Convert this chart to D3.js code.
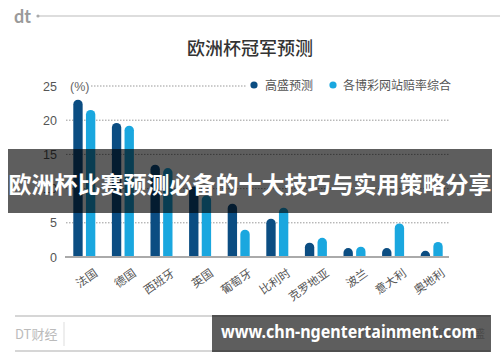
<!DOCTYPE html>
<html><head><meta charset="utf-8">
<script src="https://cdn.jsdelivr.net/npm/d3@7"></script>
<style>
html,body{margin:0;padding:0;background:#fff;}
svg{display:block;font-family:"Noto Sans CJK SC","Noto Sans",sans-serif;}
</style></head>
<body>
<svg id="c" width="500" height="362"></svg>
<script>
const categories = ["法国","德国","西班牙","英国","葡萄牙","比利时","克罗地亚","波兰","意大利","奥地利"];
const seriesNames = ["高盛预测","各博彩网站赔率综合"];
const goldman = [23.0, 19.6, 13.5, 10.3, 7.8, 5.6, 2.1, 1.3, 1.3, 0.9];
const bookmakers = [21.5, 19.2, 13.0, 9.0, 4.0, 7.2, 2.8, 1.5, 4.9, 2.2];
const yTicks = [0,5,10,15,20,25];
const colors = ["#0b4d82","#1aa7df"];

const svg = d3.select("#c");
const x = d3.scaleBand().domain(categories).range([65,451]).paddingInner(0.43).paddingOuter(0.215);
const x1 = d3.scaleBand().domain([0,1]).range([0,x.bandwidth()]).paddingInner(0.26);
const y = d3.scaleLinear().domain([0,25]).range([257,86]);

// logo
svg.append("text").attr("x",14).attr("y",23).attr("font-size",18).attr("font-weight","bold")
  .attr("fill","#9a9a9a").attr("font-family","Lato, sans-serif").text("dt");
svg.append("circle").attr("cx",38).attr("cy",16).attr("r",1.6).attr("fill","#aaa");
svg.append("line").attr("x1",39).attr("x2",500).attr("y1",16).attr("y2",16).attr("stroke","#bbb").attr("stroke-width",1);

// title
svg.append("text").attr("x",250).attr("y",55).attr("text-anchor","middle").attr("font-size",18)
  .attr("font-weight",500).attr("fill","#333").text("欧洲杯冠军预测");

// legend
const lg = svg.append("g");
[[254,265],[333,343]].forEach((p,i)=>{
  lg.append("circle").attr("cx",p[0]).attr("cy",85).attr("r",3.6).attr("fill",colors[i]);
  lg.append("text").attr("x",p[1]).attr("y",89.5).attr("font-size",12).attr("fill","#555").text(seriesNames[i]);
});

// grid & y labels
yTicks.forEach(t=>{
  if(t>0){
    svg.append("line").attr("x1", t===25?91:66).attr("x2", t===25?246:449).attr("y1",y(t)).attr("y2",y(t))
      .attr("stroke","#999").attr("stroke-width",1).attr("stroke-dasharray","1.5,1.5");
  }
  svg.append("text").attr("x",57).attr("y",y(t)+4.5).attr("text-anchor","end").attr("font-size",12.5)
    .attr("fill","#555").attr("font-family","Liberation Sans, Arial, sans-serif").text(t);
});
svg.append("text").attr("x",70).attr("y",y(25)+4.5).attr("font-size",12.5).attr("fill","#666")
  .attr("font-family","Liberation Sans, Arial, sans-serif").text("(%)");

// bars
function barPath(x0,w,yt,yb){
  const r = w/2;
  return `M${x0},${yb}V${yt+r}A${r},${r} 0 0 1 ${x0+w},${yt+r}V${yb}Z`;
}
const series = [goldman, bookmakers];
series.forEach((vals,si)=>{
  svg.append("g").selectAll("path").data(vals).join("path")
    .attr("d",(v,i)=>barPath(x(categories[i])+x1(si), x1.bandwidth(), y(v), y(0)))
    .attr("fill",colors[si]);
});
svg.append("line").attr("x1",65).attr("x2",449).attr("y1",y(0)).attr("y2",y(0)).attr("stroke","#aaa").attr("stroke-width",2);

// x labels
svg.append("g").selectAll("text").data(categories).join("text")
  .attr("transform",d=>`translate(${x(d)+x.bandwidth()/2+14},${y(0)+18}) rotate(-35)`)
  .attr("text-anchor","end").attr("font-size",11.5).attr("fill","#555").text(d=>d);

// overlay banner
svg.append("rect").attr("x",8).attr("y",149).attr("width",484).attr("height",64).attr("fill","rgba(0,0,0,0.63)");
svg.append("text").attr("x",250).attr("y",193).attr("text-anchor","middle").attr("font-size",23)
  .attr("font-weight","bold").attr("fill","#fff").text("欧洲杯比赛预测必备的十大技巧与实用策略分享");

// footer
svg.append("line").attr("x1",15).attr("x2",490).attr("y1",316).attr("y2",316).attr("stroke","#c8c8c8").attr("stroke-width",1.5);
svg.append("line").attr("x1",15).attr("x2",490).attr("y1",351).attr("y2",351).attr("stroke","#c8c8c8").attr("stroke-width",1.5);
svg.append("line").attr("x1",64).attr("x2",64).attr("y1",322).attr("y2",346).attr("stroke","#ddd").attr("stroke-width",1);
svg.append("text").attr("x",15).attr("y",339).attr("font-size",13).attr("fill","#bbb").text("DT财经");
svg.append("text").attr("x",485).attr("y",338).attr("text-anchor","end").attr("font-size",11).attr("fill","#c8c8c8").text("资讯来源：博彩网站，高盛");
svg.append("rect").attr("x",212).attr("y",315).attr("width",279).attr("height",37).attr("fill","rgba(0,0,0,0.63)");
svg.append("text").attr("x",221).attr("y",338).attr("font-size",18).attr("font-weight","bold")
  .attr("font-family","Noto Sans, Open Sans, sans-serif").attr("fill","#fff")
  .attr("textLength",256).attr("lengthAdjust","spacingAndGlyphs").text("www.chn-ngentertainment.com");
</script>
</body></html>
